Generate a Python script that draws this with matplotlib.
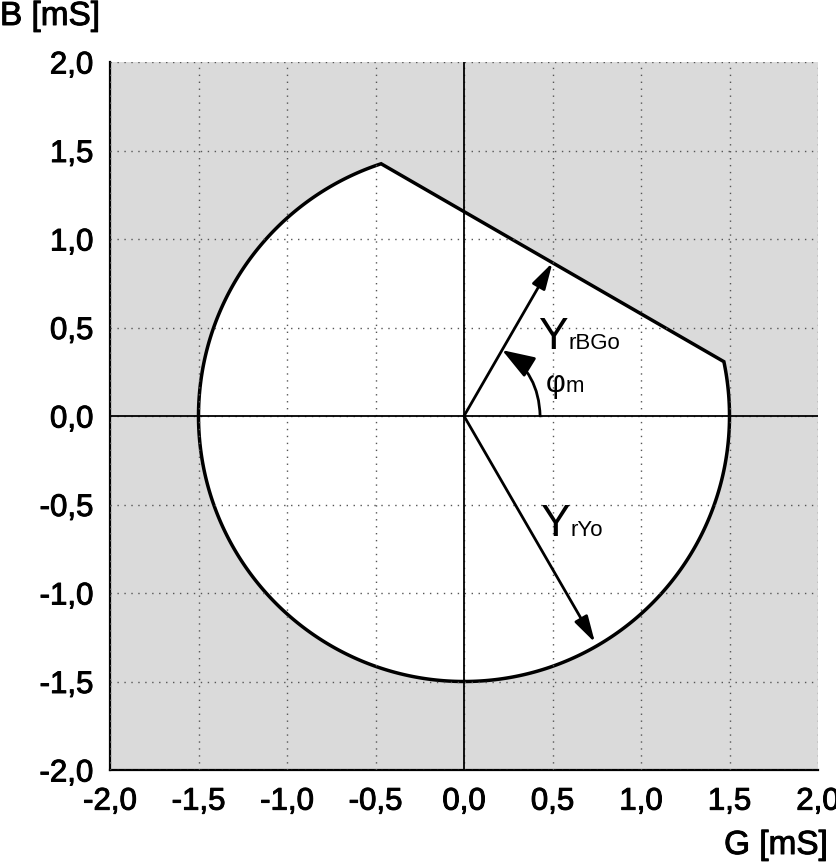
import numpy as np
import matplotlib.pyplot as plt
import matplotlib.patheffects as pe
from matplotlib.ticker import FuncFormatter
from matplotlib.patches import Polygon

plt.rcParams['font.family'] = ['Liberation Sans', 'DejaVu Sans']

# operating region: circle |Y| <= r_Y cut by line at distance r_BG, normal angle phi_m
r_Y = 1.5          # mS
r_BG = 1.0         # mS
phi_m = 60.0       # deg
ticks = [-2.0, -1.5, -1.0, -0.5, 0.0, 0.5, 1.0, 1.5, 2.0]
ryo_tip = (0.74, -1.28)

thick = [pe.withStroke(linewidth=0.7, foreground='black')]

fig = plt.figure(figsize=(8.36, 8.64), dpi=100)
ax = fig.add_axes([110/836, 1-770/864, 708/836, 708/864])
ax.set_facecolor('#dadada')

# white region
half = np.degrees(np.arccos(r_BG / r_Y))
a0 = phi_m + half
a1 = phi_m - half + 360
ang = np.radians(np.linspace(a0, a1, 400))
pts = np.column_stack([r_Y*np.cos(ang), r_Y*np.sin(ang)])
ax.add_patch(Polygon(pts, closed=True, facecolor='white', edgecolor='black',
                     lw=2.5, zorder=2, joinstyle='miter'))

ax.axhline(0, color='black', lw=1.3, zorder=3)
ax.axvline(0, color='black', lw=1.3, zorder=3)

ax.set_xlim(-2, 2)
ax.set_ylim(-2, 2)
ax.set_xticks(ticks)
ax.set_yticks(ticks)
fmt = FuncFormatter(lambda v, p: ('%.1f' % v).replace('.', ','))
ax.xaxis.set_major_formatter(fmt)
ax.yaxis.set_major_formatter(fmt)
ax.tick_params(length=0, labelsize=22.5, pad=12)
for lab in ax.get_xticklabels() + ax.get_yticklabels():
    lab.set_path_effects(thick)
ax.grid(True, color='#555555', linestyle=(0, (1, 4)), lw=1.0, zorder=4)
ax.set_axisbelow(False)
for s in ['top', 'right']:
    ax.spines[s].set_visible(False)
for s in ['left', 'bottom']:
    ax.spines[s].set_linewidth(1.6)

# Y_rBGo arrow
p = np.radians(phi_m)
ax.annotate('', xy=(r_BG*np.cos(p), r_BG*np.sin(p)), xytext=(0, 0),
            arrowprops=dict(arrowstyle='-|>,head_length=0.8,head_width=0.22',
                            color='black', lw=2, mutation_scale=20, shrinkA=0, shrinkB=0),
            zorder=5)
# Y_rYo arrow
ax.annotate('', xy=ryo_tip, xytext=(0, 0),
            arrowprops=dict(arrowstyle='-|>,head_length=0.8,head_width=0.22',
                            color='black', lw=2, mutation_scale=20, shrinkA=0, shrinkB=0),
            zorder=5)
# phi_m arc
ra = 0.43
ax.annotate('', xy=(ra*np.cos(p), ra*np.sin(p)), xytext=(ra, 0),
            arrowprops=dict(arrowstyle='-|>,head_length=1.0,head_width=0.35',
                            connectionstyle='arc3,rad=0.27',
                            color='black', lw=2, mutation_scale=20, shrinkA=0, shrinkB=0),
            zorder=5)

fig.text(0.0, 1-1/864, 'B [mS]', fontsize=24, ha='left', va='top', path_effects=thick)
fig.text(828/836, 1-861/864, 'G [mS]', fontsize=24, ha='right', va='bottom', path_effects=thick)

# big symbol + subscript on the same baseline
labels = [(0.42, 0.38, 'Y', 32, 'rBGo'), (0.43, -0.68, 'Y', 32, 'rYo'),
          (0.46, 0.135, 'φ', 22, 'm')]
fig.canvas.draw()
r = fig.canvas.get_renderer()
for x, y, big, fs, sub in labels:
    t = ax.text(x, y, big, fontsize=fs, va='baseline', zorder=6)
    bb = t.get_window_extent(r)
    xr = ax.transData.inverted().transform((bb.x1, bb.y0))[0]
    ax.text(xr + 0.005, y, sub, fontsize=16, va='baseline', zorder=6)

fig.savefig('out.png', dpi=100)
